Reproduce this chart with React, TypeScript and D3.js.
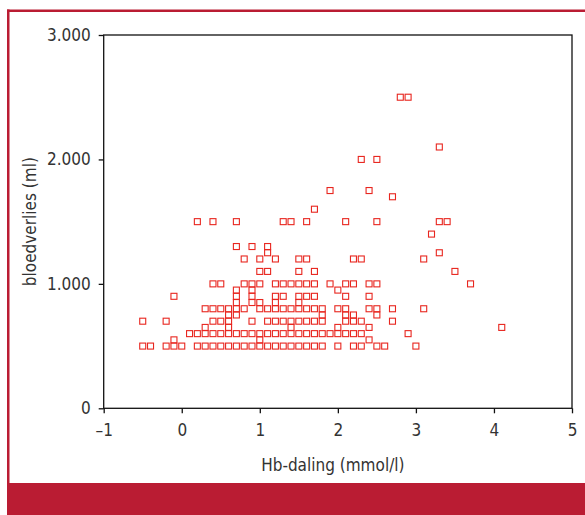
import React, { useEffect, useRef } from 'react';
import * as d3 from 'd3';

// bloedverlies levels (ml) and the Hb-daling values (mmol/l) seen at each level
const bloodLossLevels = [500, 550, 600, 650, 700, 750, 800, 850, 900, 950, 1000, 1100, 1200, 1250, 1300, 1400, 1500, 1600, 1700, 1750, 2000, 2100, 2500];

const hbDropByLevel = [
  [-0.5, -0.4, -0.2, -0.1, 0.0, 0.2, 0.3, 0.4, 0.5, 0.6, 0.7, 0.8, 0.9, 1.0, 1.1, 1.2, 1.3, 1.4, 1.5, 1.6, 1.7, 1.8, 2.0, 2.2, 2.3, 2.5, 2.6, 3.0],
  [-0.1, 1.0, 2.4],
  [0.1, 0.2, 0.3, 0.4, 0.5, 0.6, 0.7, 0.8, 0.9, 1.0, 1.1, 1.2, 1.3, 1.4, 1.5, 1.6, 1.7, 1.8, 1.9, 2.0, 2.1, 2.2, 2.3, 2.9],
  [0.3, 0.6, 1.4, 2.0, 2.4, 4.1],
  [-0.5, -0.2, 0.4, 0.5, 0.6, 0.9, 1.1, 1.2, 1.3, 1.4, 1.5, 1.6, 1.7, 1.8, 2.1, 2.2, 2.3, 2.7],
  [0.6, 0.7, 1.8, 2.1, 2.2, 2.5],
  [0.3, 0.4, 0.5, 0.6, 0.7, 0.8, 1.0, 1.1, 1.2, 1.3, 1.4, 1.5, 1.6, 1.7, 1.8, 2.0, 2.1, 2.4, 2.5, 2.7, 3.1],
  [0.7, 0.9, 1.0, 1.2, 1.5],
  [-0.1, 0.7, 0.9, 1.2, 1.3, 1.5, 1.6, 1.7, 2.1, 2.4],
  [0.7, 0.9, 2.0],
  [0.4, 0.5, 0.8, 0.9, 1.0, 1.2, 1.3, 1.4, 1.5, 1.6, 1.7, 1.9, 2.1, 2.2, 2.4, 2.5, 3.7],
  [1.0, 1.1, 1.5, 1.7, 3.5],
  [0.8, 1.0, 1.2, 1.5, 1.6, 2.2, 2.3, 3.1],
  [1.1, 3.3],
  [0.7, 0.9, 1.1],
  [3.2],
  [0.2, 0.4, 0.7, 1.3, 1.4, 1.6, 2.1, 2.5, 3.3, 3.4],
  [1.7],
  [2.7],
  [1.9, 2.4],
  [2.3, 2.5],
  [3.3],
  [2.8, 2.9],
];

const xTicks = [-1, 0, 1, 2, 3, 4, 5];
const yTicks = [0, 1000, 2000, 3000];
const yTickLabels = ['0', '1.000', '2.000', '3.000'];

type Point = { hb: number; ml: number };

const App = () => {
  const svgRef = useRef<SVGSVGElement>(null);
  const width = 585;
  const height = 515;

  useEffect(() => {
    const svg = d3.select(svgRef.current);
    svg.selectAll('*').remove();

    const points: Point[] = [];
    bloodLossLevels.forEach((ml, i) => {
      hbDropByLevel[i].forEach(hb => points.push({ hb, ml }));
    });

    const frameRed = '#ba1c33';
    const textCol = '#333';
    const font = '"DejaVu Sans Condensed", "DejaVu Sans", sans-serif';

    // red frame
    svg.append('rect').attr('x', 0).attr('y', 0).attr('width', width).attr('height', height).attr('fill', '#fff');
    svg.append('rect').attr('x', 7).attr('y', 9.5).attr('width', width - 7).attr('height', 2.5).attr('fill', frameRed);
    svg.append('rect').attr('x', 7).attr('y', 9.5).attr('width', 2.5).attr('height', 480).attr('fill', frameRed);
    svg.append('rect').attr('x', 7).attr('y', 483).attr('width', width - 7).attr('height', height - 483).attr('fill', frameRed);

    const left = 103.7, right = 572, top = 35, bottom = 408.3;

    const x = d3.scaleLinear().domain([-1, 5]).range([left, right]);
    const y = d3.scaleLinear().domain([0, 3000]).range([bottom, top]);

    // plot box
    svg.append('rect')
      .attr('x', left).attr('y', top)
      .attr('width', right - left).attr('height', bottom - top)
      .attr('fill', 'none').attr('stroke', '#111').attr('stroke-width', 1.3);

    // X axis
    const xAxis = svg.append('g')
      .attr('transform', `translate(0,${bottom})`)
      .call(d3.axisBottom(x).tickValues(xTicks).tickSize(5).tickPadding(11).tickFormat(d => {
        const v = d as number;
        return v < 0 ? `\u2013${Math.abs(v)}` : `${v}`;
      }));
    xAxis.select('.domain').remove();
    xAxis.selectAll('line').attr('stroke', '#111').attr('stroke-width', 1.3);
    xAxis.selectAll('text').attr('font-family', font).attr('font-size', 17).attr('fill', textCol);

    // Y axis
    const yAxis = svg.append('g')
      .attr('transform', `translate(${left},0)`)
      .call(d3.axisLeft(y).tickValues(yTicks).tickSize(5).tickPadding(8)
        .tickFormat((d, i) => yTickLabels[i]));
    yAxis.select('.domain').remove();
    yAxis.selectAll('line').attr('stroke', '#111').attr('stroke-width', 1.3);
    yAxis.selectAll('text').attr('font-family', font).attr('font-size', 17).attr('fill', textCol);

    // axis labels
    svg.append('text')
      .attr('x', (left + right) / 2 - 5)
      .attr('y', 471)
      .attr('text-anchor', 'middle')
      .attr('font-family', font).attr('font-size', 17).attr('fill', textCol)
      .text('Hb-daling (mmol/l)');

    svg.append('text')
      .attr('transform', `translate(36,${(top + bottom) / 2}) rotate(-90)`)
      .attr('text-anchor', 'middle')
      .attr('font-family', font).attr('font-size', 17).attr('fill', textCol)
      .text('bloedverlies (ml)');

    // markers
    const s = 6;
    svg.append('g').selectAll('rect')
      .data(points)
      .enter().append('rect')
      .attr('x', d => x(d.hb) - s / 2)
      .attr('y', d => y(d.ml) - s / 2)
      .attr('width', s)
      .attr('height', s)
      .attr('fill', 'none')
      .attr('stroke', '#e8261f')
      .attr('stroke-width', 1.1);
  }, []);

  return (
    <svg ref={svgRef} width={width} height={height}
      style={{ position: 'absolute', left: 0, top: 0, display: 'block' }}></svg>
  );
};

export default App;
